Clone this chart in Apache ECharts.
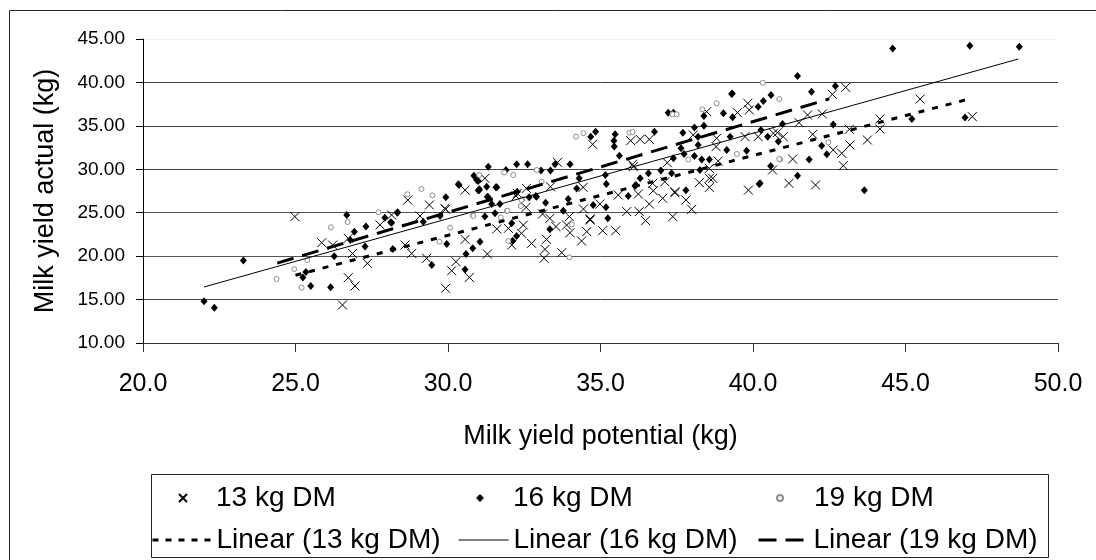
<!DOCTYPE html>
<html>
<head>
<meta charset="utf-8">
<script src="https://cdn.jsdelivr.net/npm/echarts@6/dist/echarts.min.js"></script>
<style>
  html, body { margin: 0; padding: 0; background: #fff; }
  #chart { width: 1096px; height: 560px; }
</style>
</head>
<body>
<div id="chart"></div>
<script>
// ---- Data: [milk yield potential (kg), milk yield actual (kg)] ----
const seriesNames = ['13 kg DM', '16 kg DM', '19 kg DM', 'Linear (13 kg DM)', 'Linear (16 kg DM)', 'Linear (19 kg DM)'];

const dm13 = [
  [24.98,24.55],[25.86,21.55],[26.22,21.28],[26.54,14.38],[26.73,22.05],[26.73,17.52],[26.95,16.56],[26.87,20.31],
  [27.36,19.17],[27.77,23.6],[28.15,24.74],[28.68,26.46],[29.39,25.89],[30.56,27.6],[32.27,27.23],[32.57,27.8],
  [33.36,27.99],[34.43,27.92],[34.98,26.0],[35.58,27.04],[36.24,27.15],[36.6,26.0],[36.73,27.53],[37.04,26.66],
  [37.44,27.3],[37.8,26.46],[37.11,28.57],[38.24,28.46],[38.57,27.92],[39.85,27.6],[37.99,25.39],[37.37,24.55],
  [36.48,24.09],[35.86,25.13],[36.27,25.13],[35.07,22.93],[35.5,22.93],[34.66,24.28],[34.55,22.82],[34.38,21.74],
  [34.0,22.7],[33.89,23.58],[33.54,23.4],[33.23,21.93],[33.18,20.78],[33.15,19.75],[33.73,20.4],[32.74,21.47],
  [32.41,22.63],[32.47,23.58],[32.09,21.28],[31.98,23.2],[31.6,23.13],[31.29,20.25],[30.56,21.93],[30.26,19.36],
  [30.12,18.32],[30.7,17.55],[29.92,16.29],[29.3,19.75],[28.81,20.31],[28.59,21.28],[29.92,25.39],[29.08,24.62],
  [31.21,28.96],[33.59,30.8],[34.74,32.88],[36.6,33.45],[36.3,33.45],[35.99,33.29],[36.05,30.57],[37.19,30.76],
  [38.04,33.95],[38.81,33.57],[39.74,33.76],[40.17,33.76],[40.67,34.15],[38.79,32.61],[38.86,30.95],[38.57,30.1],
  [40.64,29.92],[39.83,37.6],[39.49,36.52],[39.88,36.83],[38.48,36.64],[43.04,39.43],[42.6,38.63],[41.79,36.25],
  [42.27,36.37],[41.51,35.37],[41.96,34.03],[43.16,34.6],[43.18,32.8],[42.91,31.84],[42.63,32.22],[42.96,30.42],
  [44.16,35.79],[44.16,34.64],[43.75,33.37],[45.48,38.09],[47.19,36.06],[40.99,33.76],[40.8,34.21],[41.3,31.18],
  [41.18,28.38],[42.05,28.19],[36.08,30.3],[36.71,28.38],[37.44,27.42],[38.57,28.96],[38.68,28.96],
  [32.23,26.92],[32.56,25.62],[33.1,24.85],[33.34,24.35],[33.98,24.55],[34.44,25.43],[34.66,24.16],[29.9,25.5]
];

const dm16 = [
  [22.0,14.8],[22.34,14.06],[23.29,19.5],[25.24,17.55],[25.34,18.17],[25.5,16.56],[26.27,20.0],[26.15,16.41],
  [26.68,24.74],[26.8,21.86],[26.93,22.82],[27.28,21.1],[27.31,23.4],[27.93,24.43],[28.35,25.05],[28.12,23.9],
  [28.19,20.82],[28.34,25.0],[28.15,23.85],[29.93,26.77],[30.36,28.19],[30.99,27.6],[31.27,27.99],[31.6,27.92],
  [31.29,26.84],[31.43,26.0],[31.7,26.0],[32.88,26.92],[33.2,26.15],[33.94,26.58],[35.19,28.3],[34.76,25.89],
  [35.91,26.92],[36.13,28.07],[37.8,27.6],[40.2,28.3],[35.24,24.35],[33.34,23.1],[32.25,22.32],[32.09,23.78],
  [32.12,21.78],[31.54,24.93],[31.05,21.66],[30.81,20.9],[30.59,20.25],[30.56,18.47],[29.47,18.98],[29.96,21.4],
  [29.74,24.62],[29.19,23.97],[39.3,38.67],[40.59,38.55],[40.34,37.86],[40.17,37.21],[39.03,36.45],[39.33,35.99],
  [38.39,36.14],[37.22,36.52],[37.39,36.52],[38.08,34.8],[38.39,35.0],[37.7,34.21],[38.2,33.76],[39.25,33.76],
  [40.48,33.76],[40.26,34.53],[40.83,33.19],[39.14,32.22],[39.79,32.14],[38.2,32.8],[37.64,32.42],[37.39,31.26],
  [37.74,31.76],[38.08,31.53],[38.32,31.14],[38.57,31.14],[38.26,29.92],[40.58,30.38],[36.77,34.33],[35.48,34.02],
  [35.44,33.29],[35.45,32.61],[35.62,31.57],[35.16,29.34],[34.68,33.76],[34.84,34.33],[34.0,30.57],[33.51,30.57],
  [33.05,29.85],[33.36,29.85],[32.61,30.57],[32.25,30.57],[31.32,30.3],[30.85,29.27],[30.99,28.65],[30.34,28.27],
  [31.02,27.6],[31.57,27.92],[34.3,28.96],[34.22,27.8],[36.16,28.19],[36.3,28.96],[36.57,29.54],[36.98,29.85],
  [37.33,29.54],[40.23,28.38],[44.58,43.92],[47.11,44.23],[48.73,44.11],[41.46,40.74],[42.7,39.59],[41.92,38.93],
  [39.32,38.73],[42.63,35.17],[40.97,35.22],[42.25,32.72],[42.42,31.73],[45.21,35.79],[46.95,35.95],[41.84,31.14],
  [41.46,29.27],[43.65,27.6],[31.9,29.92],[30.94,28.77],[31.03,27.69],[31.32,26.77],[31.21,24.55],[32.27,27.42],
  [32.66,26.77],[32.9,26.84],[33.78,25.23],[35.18,25.62]
];

const dm19 = [
  [24.38,17.37],[24.96,18.5],[25.2,16.37],[25.39,19.56],[26.16,23.32],[26.71,23.93],[27.72,25.05],[28.67,27.12],
  [29.13,27.73],[29.49,27.0],[32.44,26.58],[33.07,28.57],[33.98,19.86],[34.06,23.66],[31.98,21.74],[31.93,25.2],
  [31.73,24.47],[30.07,23.28],[29.72,21.66],[30.81,24.66],[40.32,39.97],[38.81,37.6],[38.34,36.9],[37.36,36.33],
  [37.5,36.33],[37.88,31.14],[39.47,31.76],[40.89,31.14],[35.95,34.21],[36.05,34.3],[34.44,34.15],[34.2,33.76],
  [32.91,29.92],[32.14,29.34],[31.84,29.64],[40.86,38.09],[42.47,33.1],[40.86,31.18],[31.02,29.34],[30.83,24.62],
  [31.95,25.23],[32.41,26.46],[32.39,25.77]
];

// Trendline end points
const trend13 = [[25.0,17.8],[47.2,38.2]];
const trend16 = [[22.0,16.45],[48.7,42.7]];
const trend19 = [[24.4,19.2],[42.5,38.1]];

const xTitle = 'Milk yield potential (kg)';
const yTitle = 'Milk yield actual (kg)';

const FONT = '"Liberation Sans", Arial, sans-serif';
const LEG_FS = 28;
const chart = echarts.init(document.getElementById('chart'), null, { renderer: 'canvas' });

function markerLegend(name, iconCenter, textLeft, centerY, size) {
  const left = iconCenter - size / 2;
  return {
    data: [name], left: left, top: centerY - 14, padding: 0,
    itemWidth: size, itemHeight: size, selectedMode: false, symbolKeepAspect: true,
    itemStyle: { opacity: 1 },
    textStyle: { fontFamily: FONT, fontSize: LEG_FS, color: '#000', lineHeight: 28,
      padding: [0, 0, 0, textLeft - (left + size + 5)] }
  };
}
function lineLegend(name, left, centerY, w, lw, dash) {
  return {
    data: [name], left: left, top: centerY - 14, padding: 0,
    itemWidth: w, itemHeight: 14, selectedMode: false,
    itemStyle: { color: 'rgba(0,0,0,0)', borderColor: 'rgba(0,0,0,0)', borderWidth: 0, opacity: 0 },
    lineStyle: { color: '#000', width: lw, type: dash },
    textStyle: { fontFamily: FONT, fontSize: LEG_FS, color: '#000', lineHeight: 28 }
  };
}

const option = {
  animation: false,
  backgroundColor: '#fff',
  grid: { left: 143, right: 38, top: 39, bottom: 217, containLabel: false },
  xAxis: {
    type: 'value', min: 20, max: 50, interval: 5,
    name: xTitle, nameLocation: 'middle', nameGap: 94,
    nameTextStyle: { fontFamily: FONT, fontSize: 27, color: '#000', verticalAlign: 'middle' },
    axisLine: { show: true, onZero: false, lineStyle: { color: '#333', width: 1 } },
    axisTick: { show: true, length: 9, lineStyle: { color: '#333' } },
    axisLabel: { fontFamily: FONT, fontSize: 25, color: '#000', margin: 29,
      formatter: v => v.toFixed(1) },
    splitLine: { show: false }
  },
  yAxis: {
    type: 'value', min: 10, max: 45, interval: 5,
    name: yTitle, nameLocation: 'middle', nameGap: 97, nameRotate: 90,
    nameTextStyle: { fontFamily: FONT, fontSize: 27, color: '#000', verticalAlign: 'middle' },
    axisLine: { show: true, onZero: false, lineStyle: { color: '#000', width: 1 } },
    axisTick: { show: true, length: 7, lineStyle: { color: '#000' } },
    axisLabel: { fontFamily: FONT, fontSize: 19, color: '#000', margin: 18,
      formatter: v => v.toFixed(2) },
    splitLine: { show: true, lineStyle: { width: 1,
      color: ['#444','#444','#555','#555','#444','#444','#444','#f2f2f2'] } }
  },
  legend: [
    markerLegend(seriesNames[0], 182, 215, 498, 8),
    markerLegend(seriesNames[1], 480, 513, 498, 8),
    markerLegend(seriesNames[2], 779, 813, 498, 6),
    lineLegend(seriesNames[3], 151, 540, 59, 3, [6, 7]),
    lineLegend(seriesNames[4], 458, 540, 50, 1, 'solid'),
    lineLegend(seriesNames[5], 757, 540, 50, 3, [18, 9])
  ],
  graphic: [
    { type: 'rect', silent: true, z: 100,
      shape: { x: 9.5, y: 10.5, width: 1200, height: 1200 },
      style: { fill: 'none', stroke: '#222', lineWidth: 1 } },
    { type: 'rect', silent: true, z: 100,
      shape: { x: 151.5, y: 474.5, width: 897, height: 83 },
      style: { fill: 'none', stroke: '#222', lineWidth: 1 } }
  ],
  series: [
    { name: seriesNames[0], type: 'scatter', data: dm13,
      symbol: 'path://M0,0L10,10M10,0L0,10', symbolSize: 9,
      itemStyle: { color: 'rgba(0,0,0,0)', borderColor: '#000', borderWidth: 1, opacity: 1 } },
    { name: seriesNames[1], type: 'scatter', data: dm16,
      symbol: 'diamond', symbolSize: [7, 8],
      itemStyle: { color: '#000', opacity: 1 } },
    { name: seriesNames[2], type: 'scatter', data: dm19,
      symbol: 'circle', symbolSize: 5,
      itemStyle: { color: '#fff', borderColor: '#8c8c8c', borderWidth: 1, opacity: 1 } },
    { name: seriesNames[3], type: 'line', data: trend13, symbol: 'none',
      itemStyle: { color: '#000' },
      lineStyle: { color: '#000', width: 3, type: [6, 8] } },
    { name: seriesNames[4], type: 'line', data: trend16, symbol: 'none',
      itemStyle: { color: '#000' },
      lineStyle: { color: '#000', width: 1, type: 'solid' } },
    { name: seriesNames[5], type: 'line', data: trend19, symbol: 'none',
      itemStyle: { color: '#000' },
      lineStyle: { color: '#000', width: 3, type: [17, 9] } }
  ]
};
chart.setOption(option);
</script>
</body>
</html>
